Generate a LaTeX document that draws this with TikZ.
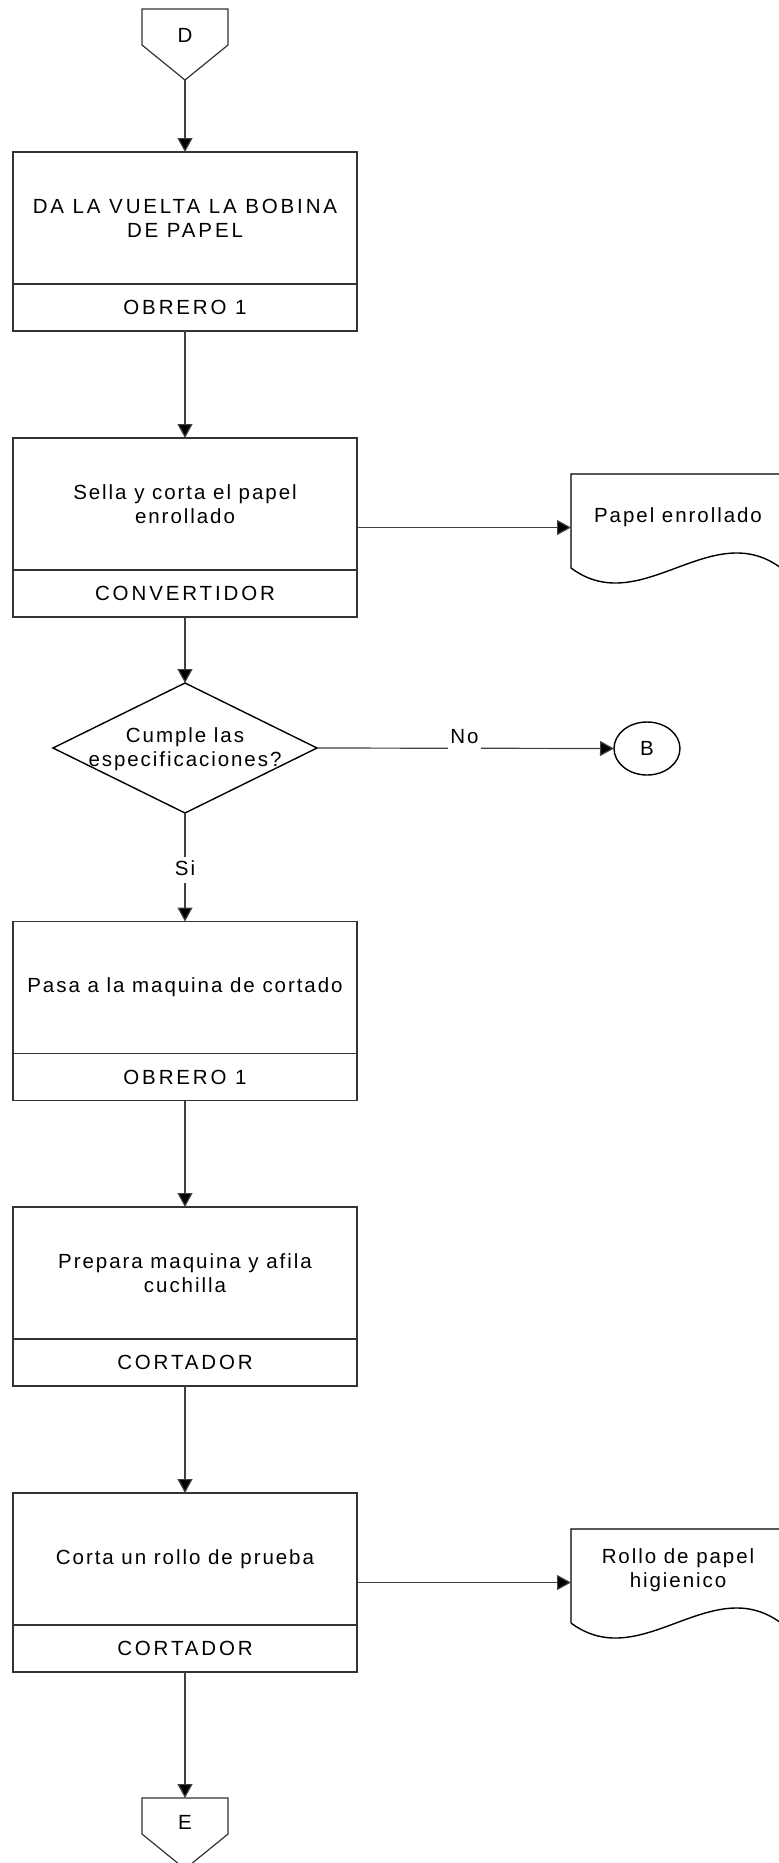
\documentclass[tikz,border=0pt]{standalone}
\usepackage{fontspec}
\setmainfont{Liberation Sans}
\newfontfamily\lsfamily[LetterSpace=9.5]{Liberation Sans}
\newfontfamily\lscapsfamily[LetterSpace=14]{Liberation Sans}
\newcommand\lsfontx{\lsfamily\fontsize{10.25pt}{12pt}\selectfont}
\newcommand\lscapsx{\lscapsfamily\fontsize{10.25pt}{12pt}\selectfont}
\usetikzlibrary{arrows.meta,shapes.geometric,calc}
\begin{document}
\begin{tikzpicture}[x=0.5pt,y=-0.5pt,
  conn/.style={draw=black!75, line width=0.6pt},
  arr/.style={conn, -{Triangle[length=7pt,width=7.5pt,fill=black]}},
  upper/.style={draw=black!80, line width=0.6pt, minimum width=172pt, minimum height=66pt, inner sep=0pt, outer sep=0pt, align=center, font=\lsfontx},
  lower/.style={draw=black!80, line width=0.6pt, minimum width=172pt, minimum height=23.5pt, inner sep=0pt, outer sep=0pt, anchor=north, font=\lscapsx},
  txt/.style={inner sep=0pt, align=center, font=\lsfontx},
  lbl/.style={fill=white, inner xsep=1pt, inner ysep=1.5pt, text depth=2.5pt, font=\lsfontx},
  shp/.style={draw=black, line width=0.7pt},
  ghost/.style={inner sep=0pt, outer sep=0pt, minimum width=43pt, minimum height=35.5pt}
]
\useasboundingbox (0,0) rectangle (779,1863);

% off-page connector D
\node[ghost] (D) at (185,44.5) {};
\draw[draw=black!80, line width=0.6pt] (D.north west) -- (D.north east) -- ($(D.north east)+(0,36)$) -- (D.south) -- ($(D.north west)+(0,36)$) -- cycle;
\node[txt] (Dl) at ($(D.north)+(0,26)$) {D};

% box 1
\node[upper, font=\lscapsx] (b1) at (185,218) {DA LA VUELTA LA BOBINA\\DE PAPEL};
\node[lower] (b1r) at (b1.south) {OBRERO 1};

% box 2
\node[upper] (b2) at (185,504) {Sella y corta el papel\\enrollado};
\node[lower] (b2r) at (b2.south) {CONVERTIDOR};

% document 1
\node[inner sep=0pt, outer sep=0pt, minimum width=105pt, minimum height=47pt] (d1) at (676,521) {};
\draw[shp] (d1.south west) -- (d1.north west) -- (d1.north east) -- (d1.south east)
  .. controls ($(d1.south east)+(-70,-52)$) and ($(d1.south west)+(70,52)$) .. (d1.south west);
\node[txt, anchor=base] (d1t) at (678,522) {Papel enrollado};

% decision
\node[shp, diamond, minimum width=132pt, minimum height=65pt, inner sep=0pt, outer sep=0pt] (q) at (185,748) {};
\node[txt] (qt) at (185,749) {Cumple las\\especificaciones?};

% connector B
\node[shp, ellipse, minimum width=33pt, minimum height=26.5pt, inner sep=0pt, outer sep=0pt, font=\lsfontx] (B) at (647,748.5) {B};

% box 3
\node[upper] (b3) at (185,987.5) {Pasa a la maquina de cortado};
\node[lower] (b3r) at (b3.south) {OBRERO 1};

% box 4
\node[upper] (b4) at (185,1273) {Prepara maquina y afila\\cuchilla};
\node[lower] (b4r) at (b4.south) {CORTADOR};

% box 5
\node[upper] (b5) at (185,1559) {Corta un rollo de prueba};
\node[lower] (b5r) at (b5.south) {CORTADOR};

% document 2
\node[inner sep=0pt, outer sep=0pt, minimum width=105pt, minimum height=47pt] (d2) at (676,1576) {};
\draw[shp] (d2.south west) -- (d2.north west) -- (d2.north east) -- (d2.south east)
  .. controls ($(d2.south east)+(-70,-52)$) and ($(d2.south west)+(70,52)$) .. (d2.south west);
\node[txt] (d2t) at (678,1570) {Rollo de papel\\higienico};

% off-page connector E
\node[ghost] (E) at (185,1833.5) {};
\draw[draw=black!80, line width=0.6pt] (E.north west) -- (E.north east) -- ($(E.north east)+(0,36)$) -- (E.south) -- ($(E.north west)+(0,36)$) -- cycle;
\node[txt] (El) at ($(E.north)+(0,24.5)$) {E};

% connectors
\draw[arr] (D.south) -- (b1.north);
\draw[arr] (b1r.south) -- (b2.north);
\coordinate (m2) at ($(b2.north east)!0.5!(b2r.south east)$);
\draw[arr] (m2) -- (m2 -| d1.west);
\draw[arr] (b2r.south) -- (q.north);
\draw[arr] (q.east) -- (B.west);
\node[lbl, anchor=base] (no) at (464.5,743) {No};
\draw[arr] (q.south) -- (b3.north);
\node[lbl, anchor=base] (si) at (185,875) {Si};
\draw[arr] (b3r.south) -- (b4.north);
\draw[arr] (b4r.south) -- (b5.north);
\coordinate (m5) at ($(b5.north east)!0.5!(b5r.south east)$);
\draw[arr] (m5) -- (m5 -| d2.west);
\draw[arr] (b5r.south) -- (E.north);
\end{tikzpicture}
\end{document}
